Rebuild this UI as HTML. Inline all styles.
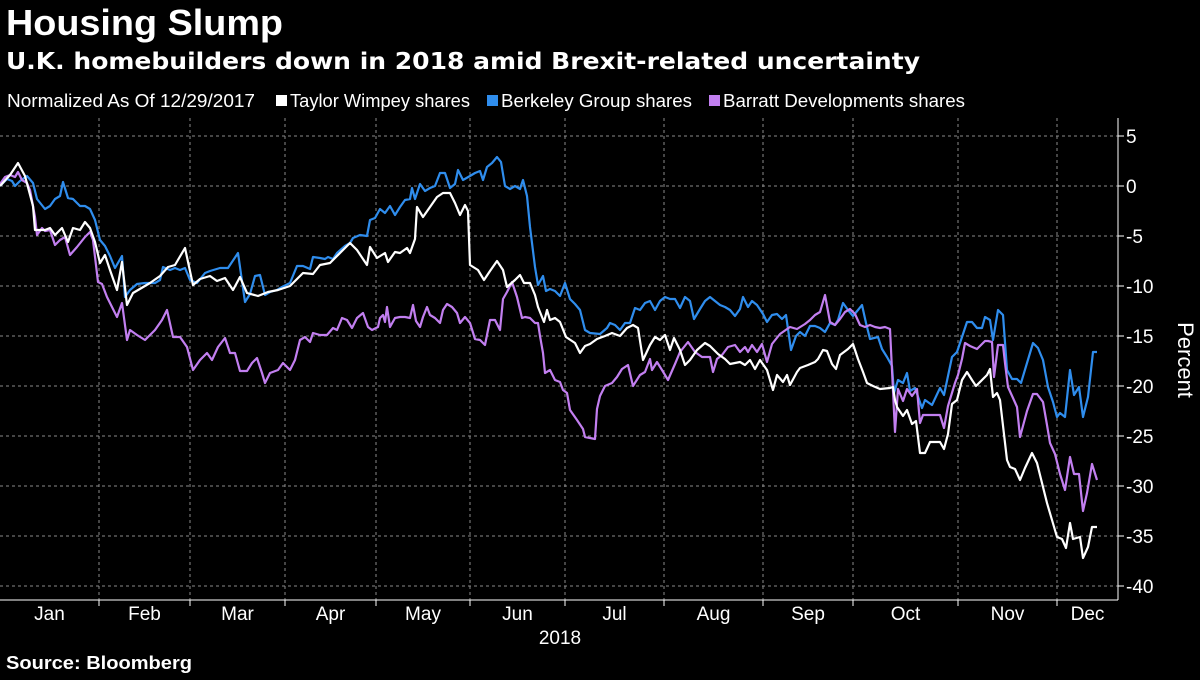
<!DOCTYPE html>
<html><head><meta charset="utf-8"><style>
html,body{margin:0;padding:0;background:#000;}
body{width:1200px;height:675px;overflow:hidden;font-family:"Liberation Sans",sans-serif;color:#fff;}
svg text{font-family:"Liberation Sans",sans-serif;}
</style></head><body>
<svg id="chart" width="1200" height="675" viewBox="0 0 1200 675">
<text x="6" y="35" fill="#fff" font-size="36" font-weight="bold" textLength="277" lengthAdjust="spacingAndGlyphs">Housing Slump</text>
<text x="6" y="69" fill="#fff" font-size="23" font-weight="bold" style="font-family:'DejaVu Sans',sans-serif" textLength="914" lengthAdjust="spacingAndGlyphs">U.K. homebuilders down in 2018 amid Brexit-related uncertainty</text>
<g font-size="18" fill="#fff">
<text x="7" y="107" textLength="248" lengthAdjust="spacingAndGlyphs">Normalized As Of 12/29/2017</text>
<rect x="276" y="95" width="11" height="11" fill="#ffffff"/>
<text x="290" y="107" textLength="180" lengthAdjust="spacingAndGlyphs">Taylor Wimpey shares</text>
<rect x="487" y="95" width="11" height="11" fill="#2f8ded"/>
<text x="501" y="107" textLength="191" lengthAdjust="spacingAndGlyphs">Berkeley Group shares</text>
<rect x="709" y="95" width="11" height="11" fill="#c27ff0"/>
<text x="723" y="107" textLength="242" lengthAdjust="spacingAndGlyphs">Barratt Developments shares</text>
</g>
<g id="grid"></g>
<g id="axes"></g>
<g id="series"></g>
<text transform="translate(1178,360) rotate(90)" text-anchor="middle" fill="#fff" font-size="22">Percent</text>
<text x="560" y="644" text-anchor="middle" fill="#fff" font-size="19">2018</text>
<text x="6" y="669" fill="#fff" font-size="18" font-weight="bold" textLength="186" lengthAdjust="spacingAndGlyphs">Source: Bloomberg</text>
</svg>
<script>
const yTicks = [5,0,-5,-10,-15,-20,-25,-30,-35,-40];
const monthLabels = ["Jan","Feb","Mar","Apr","May","Jun","Jul","Aug","Sep","Oct","Nov","Dec"];
const monthStarts = [0,19.8,38,57,75.2,94,113,132.8,152.6,170.6,191.6,211.4,229];
const taylorWimpey = [[0,0],[2,1.1],[3.6,2.3],[5,1],[6.6,-2],[7,-4.4],[9,-4.4],[10,-4.2],[11,-4.9],[12.4,-4.2],[13.6,-5.6],[14.6,-4.2],[16,-4.4],[17,-3.6],[18,-4.2],[19,-5.6],[20,-7.7],[21,-6.9],[22,-8.4],[23.4,-10.4],[24.4,-7.6],[25.4,-11.9],[26.6,-10.7],[30,-9.7],[32,-9],[33.6,-8.1],[35,-7.9],[37,-6.2],[38.6,-9.9],[40,-9.3],[42,-9],[43.4,-9.5],[45,-9.2],[46.6,-10.4],[48,-9.1],[49.4,-10.7],[51.6,-11],[53.6,-10.6],[55.6,-10.4],[58,-10],[60.6,-8.7],[62.6,-8.8],[64,-7.9],[66,-7.7],[68,-6.7],[70,-5.7],[71.4,-6.4],[73.4,-7.9],[74,-6.1],[75.4,-7.2],[77,-6.7],[77.6,-7.6],[79,-6.6],[80,-6.7],[81.4,-6.2],[82,-6.7],[83,-5.3],[83.4,-2.1],[84.6,-3.1],[86,-2.1],[87.4,-1.1],[88.6,-0.7],[90,-0.7],[91,-1.7],[92,-2.9],[93,-1.9],[93.6,-2.5],[94,-7.9],[95.6,-8.4],[96.8,-9.4],[98,-8.5],[99.4,-7.5],[100.6,-8.4],[101.4,-10.1],[103,-9.4],[104,-8.9],[104.8,-9.7],[106,-9.7],[107,-10.9],[107.6,-12.1],[108.8,-13.6],[109.4,-12.4],[110,-13.4],[111,-13.2],[112,-13.6],[113.2,-15.1],[115,-15.7],[116,-16.7],[117,-16],[118,-15.8],[119.4,-15.3],[121,-15],[122.4,-14.7],[124,-15],[125.4,-14.2],[126.6,-13.9],[127.6,-14.2],[128.6,-17.4],[130,-15.9],[131,-15.1],[132,-15.4],[133,-14.9],[134,-16.4],[134.8,-15.2],[136,-16.4],[137,-17.9],[138,-17.4],[139.4,-16.4],[141,-15.7],[142,-16],[143.6,-16.8],[145,-17.3],[146,-17.8],[148,-17.6],[149,-17.9],[150,-17.4],[151,-18.3],[152,-17.4],[153.4,-18.4],[154.6,-20.4],[155.4,-18.9],[156.6,-19.6],[157.4,-18.9],[158,-19.9],[159.4,-18.6],[160,-18.2],[161.6,-17.9],[163,-17.6],[163.6,-17.3],[164.6,-16.4],[165.4,-16.5],[166.4,-17.8],[167.2,-18.3],[168,-16.9],[169.6,-16.3],[170.6,-15.8],[171.6,-17.3],[172.6,-18.6],[173.4,-19.7],[174.6,-20],[176,-20.3],[178,-20.2],[178.6,-20.1],[179,-21.4],[179.4,-22.1],[180.6,-23],[181.4,-22.4],[182.4,-23.8],[183.2,-23.5],[184,-26.7],[185,-26.7],[186,-25.6],[188,-25.6],[188.8,-26.3],[189.6,-24.8],[190.4,-21.8],[191.4,-21.4],[192.4,-19.4],[193.4,-18.6],[194.4,-19.4],[195.2,-20],[196.4,-19.4],[197.4,-18.9],[198,-18.3],[198.6,-21.1],[199.4,-20.7],[200,-21.4],[201.4,-27.4],[202,-28.1],[203,-28.3],[204,-29.4],[205,-28.2],[206.4,-26.7],[207.4,-27.7],[208.4,-29.7],[209.4,-31.7],[210.4,-33.4],[211.4,-35.1],[212.4,-35.3],[213.2,-36.2],[214,-33.7],[214.6,-35.3],[216,-35.1],[216.6,-37.2],[217.6,-36.1],[218.4,-34.1],[219.4,-34.1]];
const berkeleyGroup = [[0,0],[1.4,0.7],[2.4,0.5],[3,0],[4,0.5],[5.4,1],[6.6,0.3],[7.4,-1.3],[9,-2.3],[10,-2],[11,-1.3],[12,-1],[12.6,0.4],[13.6,-1.2],[14.6,-1.3],[16,-2],[17,-2],[18,-2.3],[19,-3.4],[20,-5.4],[21,-6],[22,-7],[23,-8.2],[24.4,-7],[25,-11.1],[26,-10.4],[27.4,-9.8],[29,-9.7],[31,-9.7],[32,-9.4],[32.6,-8.1],[34,-8.4],[35,-8.2],[36,-8.4],[37,-8.2],[38,-9.4],[39.4,-9.7],[41,-8.7],[42,-8.5],[44,-8.2],[45.6,-8.2],[47.6,-6.7],[49,-11.6],[50,-10.8],[51,-9],[52,-8.9],[53,-10.9],[54,-10.6],[55.4,-10.4],[56.4,-10.1],[58,-9.7],[59.4,-8],[60.6,-8],[62,-8.3],[62.6,-7.1],[64,-7.2],[65,-7.3],[65.6,-7.1],[66.6,-7.3],[67.4,-6.7],[69,-6],[70,-5.7],[70.6,-5.2],[72,-4.9],[73.4,-5],[74,-3.4],[75,-3.2],[76,-2.3],[77,-2.7],[78,-2],[79,-2.9],[80,-2.1],[81,-1.4],[82,-1.3],[82.4,-0.2],[83,-1.3],[84,0.2],[85,-0.5],[86,-0.2],[87,0],[88,1.3],[89,1.3],[90,-0.2],[91,0.2],[91.6,1.6],[92.6,0.6],[94,1],[95,1.3],[96,1.5],[96.6,0.6],[97.4,1.9],[98.4,2.3],[99.4,2.9],[100.2,2.4],[101,0],[102,-0.3],[103,0],[104,-0.3],[104.6,0.6],[105.4,-1],[106,-4.1],[107,-8.1],[107.6,-9.9],[108.6,-9],[109.2,-10.5],[110,-10.3],[111,-10.5],[112,-11],[113,-9.7],[114,-11.3],[115,-11.8],[116,-12.4],[117,-14.4],[118,-14.7],[120,-14.8],[121.4,-14.2],[122,-13.7],[123,-13.9],[124,-14.4],[125,-13.7],[126,-13.7],[127,-12.2],[128,-12.4],[129,-11.7],[130,-11.5],[131,-12.4],[132,-11.5],[133,-11.1],[134,-11.3],[135,-11.3],[136,-12.2],[137,-11.1],[138,-11.5],[138.8,-13.3],[140,-12.3],[141,-11.5],[142,-11.1],[143,-11.5],[144,-11.9],[145,-12.1],[146,-12.4],[147,-13],[148,-12.3],[148.6,-11.1],[149.6,-12.1],[150.4,-11.5],[151.4,-11.9],[152.6,-12.8],[153.4,-13.6],[154.4,-12.9],[155.4,-12.8],[156.4,-13.3],[157.2,-12.9],[158.2,-16.4],[159.2,-15],[160,-14.6],[161,-15],[162,-14],[163,-14],[164,-14.2],[165,-14.6],[166,-13.7],[167,-13.9],[167.6,-13.4],[168.6,-11.7],[169.6,-12.4],[170.6,-13],[171.6,-12.4],[172.4,-11.9],[173.2,-13.7],[174,-15.3],[175.6,-15.1],[176.4,-16.3],[177.4,-17.1],[178.4,-18],[178.8,-20.7],[179.6,-19.4],[180.6,-19.7],[181.4,-18.7],[182,-20.5],[183,-20.2],[184.4,-22.2],[185,-21.4],[186.4,-21.9],[188,-20.2],[188.8,-20.9],[190.4,-17.1],[191.4,-16.6],[193.4,-13.6],[194.4,-13.6],[195.4,-14.2],[196.4,-14.2],[197,-13.1],[198,-13.4],[198.6,-15.4],[199.6,-12.4],[200.6,-12.9],[201.4,-18.4],[202.4,-19.3],[203.4,-19.3],[204.2,-19.7],[205.4,-17.7],[206.6,-15.7],[207.6,-16.2],[208.6,-17.4],[209.6,-20.1],[210.6,-21.6],[211.4,-23.1],[212,-22.7],[213,-23.1],[214,-18.4],[214.8,-20.9],[215.8,-20.1],[216.6,-23.1],[217.6,-21.1],[218.6,-16.6],[219.4,-16.6]];
const barrattDevelopments = [[0,0.2],[1,0.9],[2,1.1],[3,0.9],[3.6,1.4],[4.4,0.6],[5.4,0.3],[6,-0.4],[7,-3.1],[7.4,-4.9],[8.4,-4.2],[9,-4.5],[10,-4.4],[11,-5.9],[12,-5.4],[13,-5.1],[14,-6.9],[15.4,-6.1],[17,-5.1],[18,-4.6],[18.6,-5.4],[19.6,-9.6],[20.4,-9.8],[21.4,-11.1],[22.4,-12.1],[23.4,-13.1],[24.4,-11.7],[25.4,-15.4],[26,-14.4],[27.4,-14.9],[29,-15.4],[31,-14.4],[32.4,-13.4],[33.4,-12.4],[34.6,-15.1],[36,-15.1],[37.4,-16.1],[38.6,-18.4],[40,-17.4],[41.4,-16.7],[42.4,-17.4],[43.6,-16.1],[45,-15.2],[46,-16.7],[47,-16.7],[48,-18.5],[49.4,-18.5],[50.4,-17.7],[51.4,-17.2],[52.4,-18.7],[53,-19.7],[54,-18.7],[55.6,-18.4],[56.6,-17.7],[58,-18.4],[59,-17.4],[60,-15.4],[61,-15.1],[62,-15.6],[62.6,-14.7],[64,-14.9],[65.4,-14.9],[66.6,-14.2],[67.4,-14.4],[68.4,-13.2],[69.4,-13.4],[70.4,-14.2],[71.4,-13.2],[72.6,-12.7],[73.6,-14.1],[74.4,-14.4],[75.6,-14.1],[76,-13.2],[76.6,-12.9],[77,-13.6],[77.4,-12.1],[78,-14.1],[79,-13.2],[80,-13.1],[81,-13.1],[82,-13.2],[82.6,-11.9],[83.2,-13.5],[84,-14.1],[84.6,-13.1],[85.4,-12.1],[86,-12.9],[87,-13.2],[88,-13.7],[88.6,-12.4],[89.4,-11.8],[90.4,-12.1],[91.4,-12.7],[92,-13.7],[93,-13.1],[94,-13.7],[95,-15.3],[96,-15.4],[97,-15.9],[98,-13.4],[99,-13.4],[100,-14.4],[100.6,-11.3],[101.4,-10.6],[102.4,-9.6],[103.4,-11.1],[104.4,-13.2],[105,-13.1],[106,-13.2],[107,-13.7],[107.6,-13.7],[108,-15],[108.6,-16.7],[109,-18.7],[110,-18.4],[111,-19.4],[112,-19.6],[112.6,-20.4],[113.4,-20.7],[114,-22.4],[115.4,-23.4],[116.6,-24.3],[117,-25.1],[118,-25.2],[119,-25.3],[119.4,-22.3],[120,-21],[121,-20],[122.4,-19.7],[123.4,-19.1],[124.4,-18.3],[125.6,-17.9],[126.6,-20],[128,-18.9],[129,-18.6],[130,-17.3],[130.4,-18.4],[131.4,-17.6],[132.4,-18.4],[133.6,-19.4],[135,-17.8],[136,-16.6],[137.6,-15.6],[139,-16.6],[140.4,-17.1],[142,-17.1],[142.6,-18.6],[143.4,-17.3],[144.4,-16.9],[145.6,-16.1],[147,-15.9],[148,-16.6],[149,-16.1],[149.6,-16.6],[150.4,-15.9],[151.4,-16.6],[152.4,-15.8],[153.4,-17.6],[154.4,-15.8],[156,-14.8],[158,-14.1],[159.4,-14.3],[161,-13.8],[162,-13.4],[163,-12.9],[164,-12.6],[165,-10.9],[166,-13.6],[167,-13.9],[168,-13.3],[169,-12.6],[170,-12.3],[171,-12.8],[172,-13.9],[173,-14.1],[174,-13.9],[175,-14.1],[176,-14.2],[177,-14.1],[178,-14.3],[179,-24.6],[179.6,-20.3],[180.6,-21.5],[181.4,-20.3],[182.4,-21],[183.4,-20.3],[184,-23.7],[184.6,-22.9],[186,-22.9],[188,-22.9],[188.8,-24.2],[189.6,-22],[191,-19.7],[191.6,-18.9],[192.4,-17.3],[193,-15.7],[194,-16],[195.4,-16.3],[196.4,-15.8],[197,-15.5],[197.6,-15.5],[198.4,-15.6],[198.8,-19.1],[199.6,-15.9],[200.6,-15.9],[201,-17.7],[201.6,-20.1],[202.6,-21.2],[203.4,-22.1],[204,-25.1],[205.4,-22.5],[206.6,-20.8],[207.4,-20.8],[208.6,-21.6],[209.4,-23.9],[210,-25.7],[211,-26.8],[212,-28.8],[213,-30.4],[214,-27.1],[214.8,-28.8],[215.8,-28.8],[216.6,-32.5],[217.4,-30.7],[218.4,-27.8],[219.4,-29.4]];

const PLOT_L = 0, PLOT_R = 1118, PLOT_T = 118, PLOT_B = 600;
function xScale(t){ return PLOT_L + t * (1097/219.4); }
function yScale(v){ return 186 - v * 10; }
const NS = "http://www.w3.org/2000/svg";
function mk(tag, attrs, parent){
  const el = document.createElementNS(NS, tag);
  for (const k in attrs) el.setAttribute(k, attrs[k]);
  parent.appendChild(el);
  return el;
}
const grid = document.getElementById('grid');
const axes = document.getElementById('axes');
const series = document.getElementById('series');

yTicks.forEach(function(v){
  const y = yScale(v);
  const gl = mk('line', {x1: PLOT_L, x2: PLOT_R, y1: y, y2: y, stroke: '#8a8a8a', 'stroke-width': 1, 'stroke-dasharray': '3,3'}, grid);
  
  
  const tk = mk('line', {x1: PLOT_R, x2: PLOT_R + 6, y1: y, y2: y, stroke: '#fff', 'stroke-width': 1}, axes);
  
  
  const lb = mk('text', {x: PLOT_R + 8, y: y + 7, fill: '#fff', 'font-size': 19}, axes);
  lb.textContent = v;
  
  
});
monthStarts.slice(1, 12).forEach(function(t){
  const x = xScale(t);
  const gl = mk('line', {x1: x, x2: x, y1: PLOT_T, y2: PLOT_B, stroke: '#8a8a8a', 'stroke-width': 1, 'stroke-dasharray': '3,3'}, grid);
  
  
  const tk = mk('line', {x1: x, x2: x, y1: PLOT_B, y2: PLOT_B + 6, stroke: '#fff', 'stroke-width': 1}, axes);
  
  
});
monthLabels.forEach(function(m, i){
  const x = (xScale(monthStarts[i]) + Math.min(xScale(monthStarts[i + 1]), PLOT_R)) / 2;
  const lb = mk('text', {x: x, y: 620, fill: '#fff', 'font-size': 19, 'text-anchor': 'middle'}, axes);
  lb.textContent = m;
  
  
});
const xAxis = mk('line', {x1: PLOT_L, x2: PLOT_R, y1: PLOT_B, y2: PLOT_B, stroke: '#fff', 'stroke-width': 1}, axes);


const yAxis = mk('line', {x1: PLOT_R, x2: PLOT_R, y1: PLOT_T, y2: PLOT_B, stroke: '#fff', 'stroke-width': 1}, axes);



function drawLine(data, color, name){
  const d = data.map(function(p, i){ return (i ? 'L' : 'M') + xScale(p[0]).toFixed(1) + ',' + yScale(p[1]).toFixed(1); }).join('');
  const path = mk('path', {d: d, fill: 'none', stroke: color, 'stroke-width': 2.2, 'stroke-linejoin': 'round'}, series);
  
  
}
drawLine(berkeleyGroup, '#2f8ded', 'berkeley-group-line');
drawLine(barrattDevelopments, '#c27ff0', 'barratt-developments-line');
drawLine(taylorWimpey, '#ffffff', 'taylor-wimpey-line');
</script>
</body></html>
